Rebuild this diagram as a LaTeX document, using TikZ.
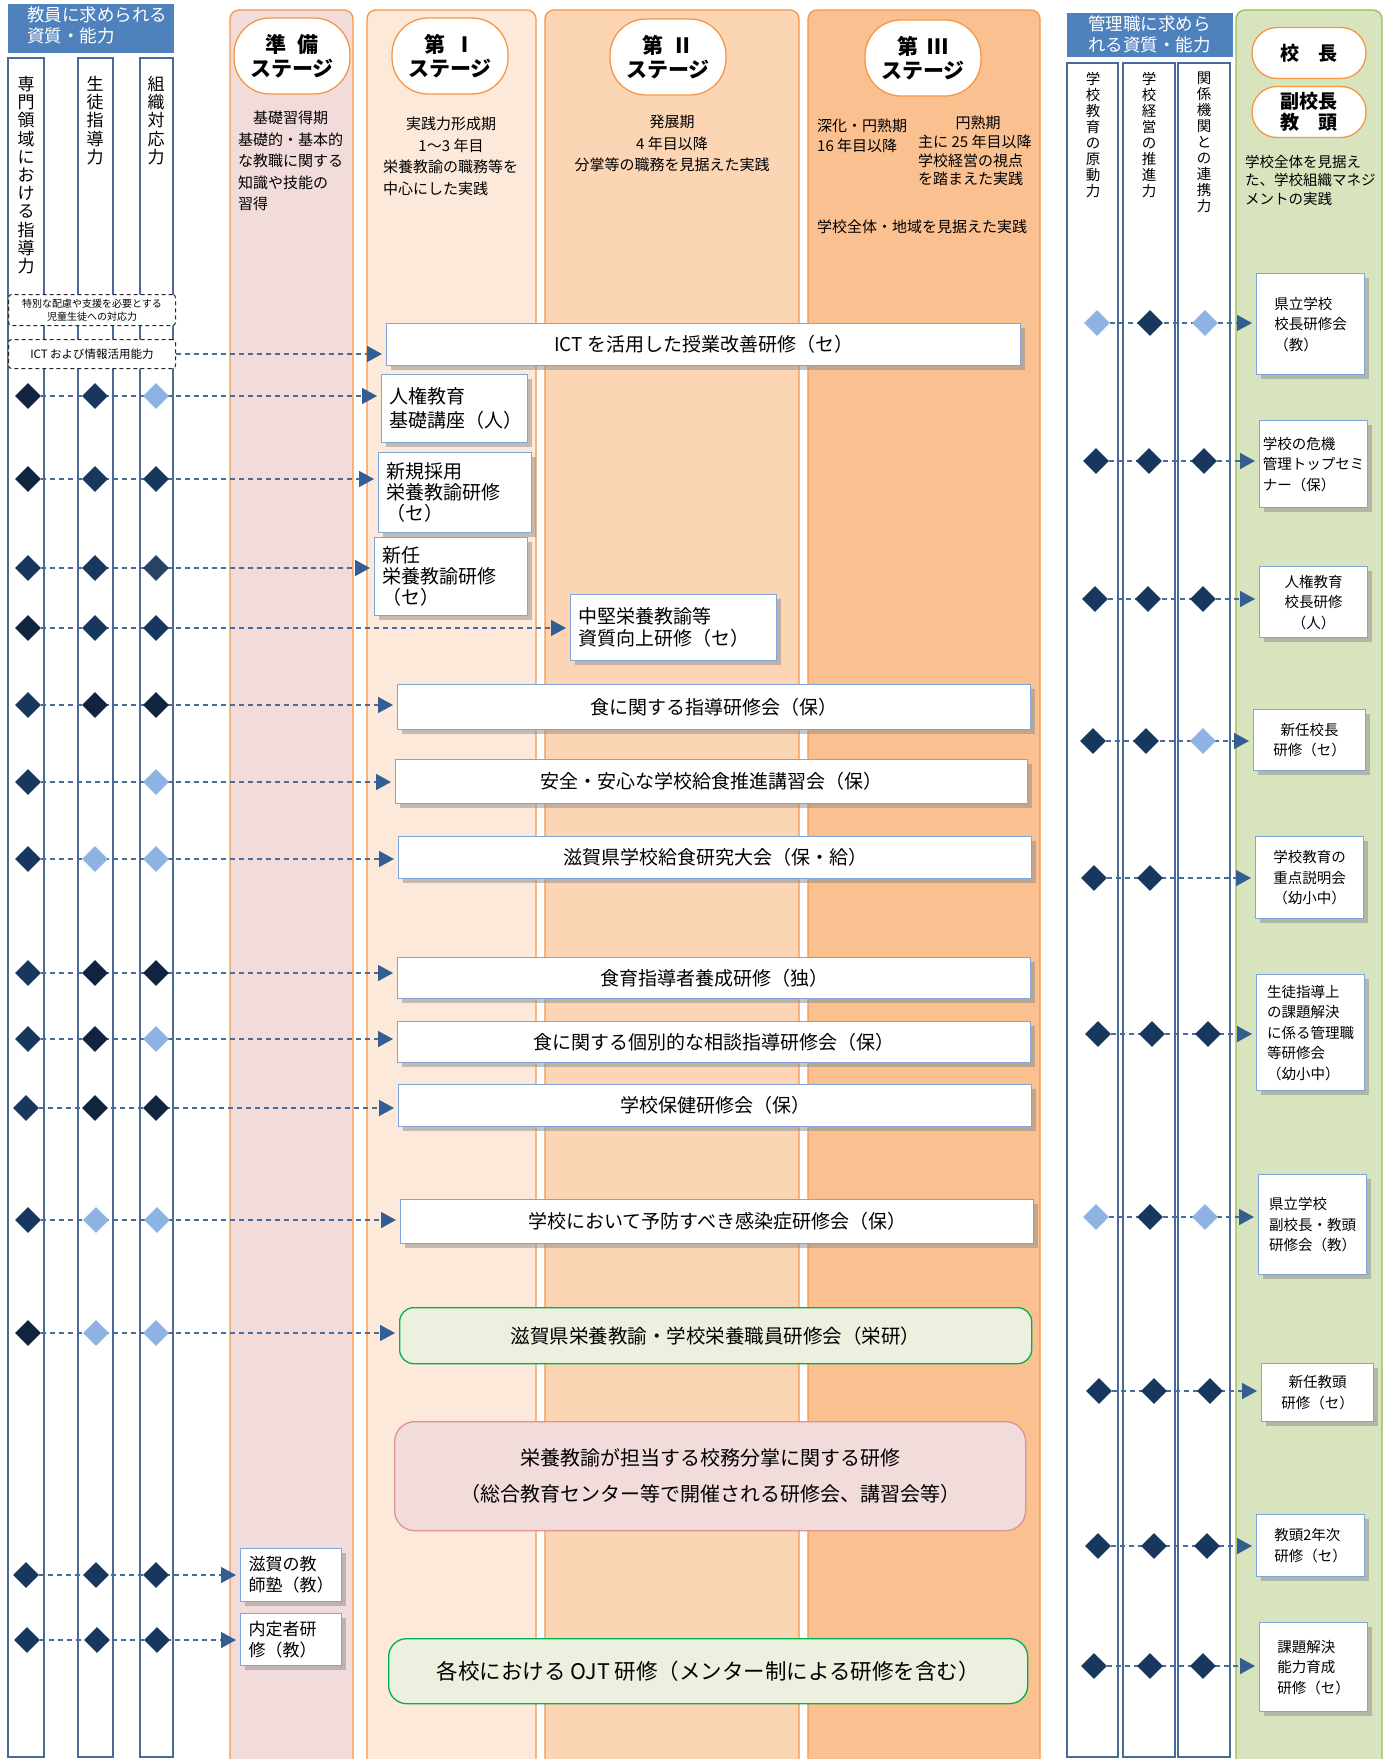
\documentclass[tikz,border=0pt]{standalone}
\usepackage{fontspec}
\setmainfont{Noto Sans CJK JP}
\usetikzlibrary{shapes.geometric,arrows.meta,shadows}
\pgfdeclarelayer{back}
\pgfdeclarelayer{mid}
\pgfsetlayers{back,mid,main}
\definecolor{hdblue}{HTML}{4F81BD}
\definecolor{colnavy}{HTML}{4A6B96}
\definecolor{stgorange}{HTML}{F79646}
\definecolor{fillprep}{HTML}{F2DCDB}
\definecolor{fillone}{HTML}{FDE9D9}
\definecolor{filltwo}{HTML}{FCD5B5}
\definecolor{fillthree}{HTML}{FAC090}
\definecolor{fillgreen}{HTML}{D7E4BD}
\definecolor{linegreen}{HTML}{9BBB59}
\definecolor{boxblue}{HTML}{7EA6DC}
\definecolor{diadark}{HTML}{17375E}
\definecolor{diablack}{HTML}{10243F}
\definecolor{dialight}{HTML}{8DB3E2}
\definecolor{flowblue}{HTML}{4A6C9B}
\definecolor{tipblue}{HTML}{335E93}
\definecolor{eikenfill}{HTML}{EBF1DE}
\definecolor{eikenline}{HTML}{00B050}
\definecolor{pinkline}{HTML}{D99694}
\newcommand{\fsz}[2]{\fontsize{#1pt}{#2pt}\selectfont}
\begin{document}
\begin{tikzpicture}[x=1pt, y=-1pt,
  colbox/.style={draw=colnavy, fill=white, line width=1.3pt},
  stagecol/.style={draw=stgorange, line width=1.3pt, rounded corners=9pt},
  stagename/.style={draw=stgorange, fill=white, line width=1.3pt, rounded corners=36pt, minimum width=116pt, minimum height=76pt, align=center, inner sep=0pt, font=\fsz{21}{24}\bfseries},
  rolename/.style={stagename, rounded corners=25pt, minimum width=114pt, minimum height=51pt, font=\fsz{19}{21}\bfseries},
  hdtext/.style={text=white, align=left, inner sep=0pt, anchor=north west, font=\fsz{17.5}{21}},
  vtext/.style={align=center, anchor=north, inner sep=0pt},
  note/.style={align=center, inner sep=0pt, font=\fsz{15}{21.5}},
  dlbox/.style={draw=black!85, dash pattern=on 4pt off 3pt, fill=white, rounded corners=3pt, line width=1pt, anchor=north west, minimum width=167pt, align=center, inner sep=0pt},
  kbox/.style={draw=boxblue, fill=white, line width=1.2pt, anchor=north west, inner sep=0pt, font=\fsz{19}{22}, drop shadow={shadow xshift=4pt, shadow yshift=-4pt, fill=black!45, opacity=0.5}},
  kboxl/.style={kbox, align=left, inner xsep=8pt},
  rbox/.style={kbox, align=left, minimum width=108pt, font=\fsz{14.5}{20.5}},
  gbox/.style={draw=eikenline, fill=eikenfill, line width=1.3pt, rounded corners=14pt, anchor=north west, inner sep=0pt},
  dia/.style={diamond, aspect=1, minimum width=26pt, minimum height=26pt, inner sep=0pt},
  diaD/.style={dia, fill=diadark},
  diaX/.style={dia, fill=diablack},
  diaL/.style={dia, fill=dialight},
  flow/.style={draw=flowblue, line width=1.5pt, dash pattern=on 5pt off 4pt, shorten >=4pt, -{Triangle[length=15pt, width=16pt, color=tipblue]}}
]
\useasboundingbox (0,0) rectangle (1392,1759);

% columns behind everything
\begin{pgfonlayer}{back}
  \fill[white] (0,0) rectangle (1392,1759);
  \draw[colbox] (8,58) rectangle (44,1757);
  \draw[colbox] (78,58) rectangle (113,1757);
  \draw[colbox] (140,58) rectangle (173,1757);
  \draw[stagecol, fill=fillprep] (230,10) rectangle (353,1780);
  \draw[stagecol, fill=fillone] (367,10) rectangle (536,1780);
  \draw[stagecol, fill=filltwo] (545,10) rectangle (799,1780);
  \draw[stagecol, fill=fillthree] (808,10) rectangle (1040,1780);
  \draw[colbox] (1067,63) rectangle (1118,1757);
  \draw[colbox] (1123,63) rectangle (1175,1757);
  \draw[colbox] (1178,63) rectangle (1230,1757);
  \draw[stagecol, draw=linegreen, fill=fillgreen] (1236,10) rectangle (1382,1780);
\end{pgfonlayer}

% headers
\fill[hdblue] (8,4) rectangle (174,53);
\node[hdtext] (thead) at (27,7) {教員に求められる\\資質・能力};
\fill[hdblue] (1067,13) rectangle (1233,57);
\node[hdtext] (mhead) at (1088,16) {管理職に求めら\\れる資質・能力};

\node[vtext, font=\fsz{17}{18.2}] (vt1) at (26,76) {専\\門\\領\\域\\に\\お\\け\\る\\指\\導\\力};
\node[vtext, font=\fsz{17}{18.2}] (vt2) at (95,76) {生\\徒\\指\\導\\力};
\node[vtext, font=\fsz{17}{18.2}] (vt3) at (156,76) {組\\織\\対\\応\\力};
\node[vtext, font=\fsz{14.5}{16}] (vm1) at (1093,72) {学\\校\\教\\育\\の\\原\\動\\力};
\node[vtext, font=\fsz{14.5}{16}] (vm2) at (1149,72) {学\\校\\経\\営\\の\\推\\進\\力};
\node[vtext, font=\fsz{14.5}{16}] (vm3) at (1204,72) {関\\係\\機\\関\\と\\の\\連\\携\\力};

\node[dlbox, minimum height=31pt, font=\fsz{10}{13}] (special) at (8,294) {特別な配慮や支援を必要とする\\児童生徒への対応力};
\node[dlbox, minimum height=29pt, font=\fsz{11.5}{14}] (ictdl) at (8,339) {ICT および情報活用能力};

% stages
\node[stagename] (prep) at (292,56) {準\hspace{0.5em}備\\ステージ};
\node[stagename] (one) at (450,56) {第\hspace{0.4em}Ⅰ\\ステージ};
\node[stagename] (two) at (668,57) {第\hspace{0.4em}Ⅱ\\ステージ};
\node[stagename] (three) at (923,58) {第\hspace{0.4em}Ⅲ\\ステージ};
\node[rolename] (kocho) at (1309,53) {校\hspace{1em}長};
\node[rolename] (fukukocho) at (1309,112) {副校長\\教\hspace{1em}頭};

\node[note, align=left, anchor=north west] (prepnote) at (238,111) {\hspace*{1em}基礎習得期\\基礎的・基本的\\な教職に関する\\知識や技能の\\習得};
\node[note, anchor=north] (onenote) at (451,117) {実践力形成期\\1〜3 年目};
\node[note, align=left, anchor=north west] (onenote2) at (383,160) {栄養教諭の職務等を\\中心にした実践};
\node[note, anchor=north] (twonote) at (672,115) {発展期\\4 年目以降\\分掌等の職務を見据えた実践};
\node[note, align=left, anchor=north west, font=\fsz{15}{19.5}] (threenoteA) at (817,119) {深化・円熟期\\16 年目以降};
\node[note, anchor=north] (threenoteB) at (978,116) {円熟期};
\node[note, align=left, anchor=north west, font=\fsz{15}{18.5}] (threenoteC) at (918,135) {主に 25 年目以降\\学校経営の視点\\を踏まえた実践};
\node[note, anchor=north west] (threenoteD) at (817,220) {学校全体・地域を見据えた実践};
\node[note, align=left, anchor=north west, font=\fsz{14.5}{18.5}] (greennote) at (1245,155) {学校全体を見据え\\た、学校組織マネジ\\メントの実践};

% trainings
\node[kbox, minimum width=634pt, minimum height=42pt] (ict) at (386,323) {ICT を活用した授業改善研修（セ）};
\node[kboxl, text width=130pt, minimum height=68pt, font=\fsz{19}{24}] (jinken) at (381,374) {人権教育\\基礎講座（人）};
\node[kboxl, text width=137pt, minimum height=80pt, font=\fsz{19}{21}] (shinki) at (378,452) {新規採用\\栄養教諭研修\\（セ）};
\node[kboxl, text width=137pt, minimum height=78pt, font=\fsz{19}{21}] (shinnin) at (374,537) {新任\\栄養教諭研修\\（セ）};
\node[kboxl, text width=190pt, minimum height=66pt, font=\fsz{19}{22}] (chuken) at (570,594) {中堅栄養教諭等\\資質向上研修（セ）};
\node[kbox, minimum width=633pt, minimum height=45pt] (shoku) at (397,684) {食に関する指導研修会（保）};
\node[kbox, minimum width=632pt, minimum height=44pt] (anzen) at (395,759) {安全・安心な学校給食推進講習会（保）};
\node[kbox, minimum width=633pt, minimum height=42pt] (kyushoku) at (398,836) {滋賀県学校給食研究大会（保・給）};
\node[kbox, minimum width=633pt, minimum height=41pt] (shokuiku) at (397,957) {食育指導者養成研修（独）};
\node[kbox, minimum width=633pt, minimum height=41pt] (kobetsu) at (397,1021) {食に関する個別的な相談指導研修会（保）};
\node[kbox, minimum width=633pt, minimum height=42pt] (hoken) at (398,1084) {学校保健研修会（保）};
\node[kbox, minimum width=633pt, minimum height=44pt] (kansen) at (400,1199) {学校において予防すべき感染症研修会（保）};
\node[gbox, minimum width=632pt, minimum height=56pt, font=\fsz{19.5}{22}] (eiken) at (399,1307) {滋賀県栄養教諭・学校栄養職員研修会（栄研）};
\node[gbox, draw=pinkline, fill=fillprep, rounded corners=20pt, minimum width=631pt, minimum height=109pt, align=center, font=\fsz{20}{36}] (kobun) at (394,1421) {栄養教諭が担当する校務分掌に関する研修\\（総合教育センター等で開催される研修会、講習会等）};
\node[kboxl, text width=85pt, minimum height=53pt, font=\fsz{17}{21}] (juku) at (240,1548) {滋賀の教\\師塾（教）};
\node[kboxl, text width=85pt, minimum height=52pt, font=\fsz{17}{21}] (naitei) at (240,1613) {内定者研\\修（教）};
\node[gbox, rounded corners=18pt, minimum width=639pt, minimum height=65pt, font=\fsz{21.5}{24}] (ojt) at (388,1638) {各校における OJT 研修（メンター制による研修を含む）};

\node[rbox, minimum height=101pt] (kencho) at (1256,273) {県立学校\\校長研修会\\（教）};
\node[rbox, minimum height=87pt] (kiki) at (1259,420) {学校の危機\\管理トップセミ\\ナー（保）};
\node[rbox, align=center, minimum height=71pt] (jinkenk) at (1259,566) {人権教育\\校長研修\\（人）};
\node[rbox, align=center, minimum width=112pt, minimum height=61pt] (shinkocho) at (1253,709) {新任校長\\研修（セ）};
\node[rbox, minimum height=82pt] (juten) at (1255,836) {学校教育の\\重点説明会\\（幼小中）};
\node[rbox, minimum height=116pt] (seito) at (1256,974) {生徒指導上\\の課題解決\\に係る管理職\\等研修会\\（幼小中）};
\node[rbox, minimum height=100pt] (fuku) at (1258,1174) {県立学校\\副校長・教頭\\研修会（教）};
\node[rbox, align=center, minimum width=112pt, minimum height=58pt] (shinkyoto) at (1261,1363) {新任教頭\\研修（セ）};
\node[rbox, minimum height=62pt] (kyoto2) at (1256,1514) {教頭2年次\\研修（セ）};
\node[rbox, minimum height=89pt] (kadai) at (1259,1622) {課題解決\\能力育成\\研修（セ）};

% teacher diamonds
\node[diaX] (jinken1) at (28,396) {};
\node[diaD] (jinken2) at (95,396) {};
\node[diaL] (jinken3) at (156,396) {};
\node[diaX] (shinki1) at (28,479) {};
\node[diaD] (shinki2) at (95,479) {};
\node[diaD] (shinki3) at (156,479) {};
\node[diaD] (shinnin1) at (28,568) {};
\node[diaD] (shinnin2) at (95,568) {};
\node[dia, fill=diadark!85!gray] (shinnin3) at (156,568) {};
\node[diaX] (chuken1) at (28,628) {};
\node[diaD] (chuken2) at (95,628) {};
\node[diaD] (chuken3) at (156,628) {};
\node[diaD] (shoku1) at (28,705) {};
\node[diaX] (shoku2) at (95,705) {};
\node[diaX] (shoku3) at (156,705) {};
\node[diaD] (anzen1) at (28,782) {};
\node[diaL] (anzen3) at (156,782) {};
\node[diaD] (kyushoku1) at (28,859) {};
\node[diaL] (kyushoku2) at (95,859) {};
\node[diaL] (kyushoku3) at (156,859) {};
\node[diaD] (shokuiku1) at (28,973) {};
\node[diaX] (shokuiku2) at (95,973) {};
\node[diaX] (shokuiku3) at (156,973) {};
\node[diaD] (kobetsu1) at (28,1039) {};
\node[diaX] (kobetsu2) at (95,1039) {};
\node[diaL] (kobetsu3) at (156,1039) {};
\node[diaD] (hoken1) at (26,1108) {};
\node[diaX] (hoken2) at (95,1108) {};
\node[diaX] (hoken3) at (156,1108) {};
\node[diaD] (kansen1) at (28,1220) {};
\node[diaL] (kansen2) at (96,1220) {};
\node[diaL] (kansen3) at (157,1220) {};
\node[diaX] (eiken1) at (28,1333) {};
\node[diaL] (eiken2) at (96,1333) {};
\node[diaL] (eiken3) at (156,1333) {};
\node[diaD] (juku1) at (26,1575) {};
\node[diaD] (juku2) at (96,1575) {};
\node[diaD] (juku3) at (156,1575) {};
\node[diaD] (naitei1) at (27,1640) {};
\node[diaD] (naitei2) at (97,1640) {};
\node[diaD] (naitei3) at (157,1640) {};

% manager diamonds
\node[diaL] (kencho1) at (1097,323) {};
\node[diaD] (kencho2) at (1150,323) {};
\node[diaL] (kencho3) at (1205,323) {};
\node[diaD] (kiki1) at (1096,461) {};
\node[diaD] (kiki2) at (1149,461) {};
\node[diaD] (kiki3) at (1204,461) {};
\node[diaD] (jinkenk1) at (1095,599) {};
\node[diaD] (jinkenk2) at (1148,599) {};
\node[diaD] (jinkenk3) at (1203,599) {};
\node[diaD] (shinkocho1) at (1093,741) {};
\node[diaD] (shinkocho2) at (1146,741) {};
\node[diaL] (shinkocho3) at (1203,741) {};
\node[diaD] (juten1) at (1094,878) {};
\node[diaD] (juten2) at (1150,878) {};
\node[diaD] (seito1) at (1098,1034) {};
\node[diaD] (seito2) at (1152,1034) {};
\node[diaD] (seito3) at (1208,1034) {};
\node[diaL] (fuku1) at (1096,1217) {};
\node[diaD] (fuku2) at (1150,1217) {};
\node[diaL] (fuku3) at (1205,1217) {};
\node[diaD] (shinkyoto1) at (1099,1391) {};
\node[diaD] (shinkyoto2) at (1154,1391) {};
\node[diaD] (shinkyoto3) at (1210,1391) {};
\node[diaD] (kyoto21) at (1098,1546) {};
\node[diaD] (kyoto22) at (1154,1546) {};
\node[diaD] (kyoto23) at (1207,1546) {};
\node[diaD] (kadai1) at (1094,1666) {};
\node[diaD] (kadai2) at (1150,1666) {};
\node[diaD] (kadai3) at (1203,1666) {};

% connectors under the diamonds
\begin{pgfonlayer}{mid}
  \draw[flow] (ictdl.east) -- (ictdl.east -| ict.west);
  \draw[flow] (jinken1) -- (jinken1 -| jinken.west);
  \draw[flow] (shinki1) -- (shinki1 -| shinki.west);
  \draw[flow] (shinnin1) -- (shinnin1 -| shinnin.west);
  \draw[flow] (chuken1) -- (chuken1 -| chuken.west);
  \draw[flow] (shoku1) -- (shoku1 -| shoku.west);
  \draw[flow] (anzen1) -- (anzen1 -| anzen.west);
  \draw[flow] (kyushoku1) -- (kyushoku1 -| kyushoku.west);
  \draw[flow] (shokuiku1) -- (shokuiku1 -| shokuiku.west);
  \draw[flow] (kobetsu1) -- (kobetsu1 -| kobetsu.west);
  \draw[flow] (hoken1) -- (hoken1 -| hoken.west);
  \draw[flow] (kansen1) -- (kansen1 -| kansen.west);
  \draw[flow] (eiken1) -- (eiken1 -| eiken.west);
  \draw[flow] (juku1) -- (juku1 -| juku.west);
  \draw[flow] (naitei1) -- (naitei1 -| naitei.west);
  \draw[flow] (kencho1) -- (kencho1 -| kencho.west);
  \draw[flow] (kiki1) -- (kiki1 -| kiki.west);
  \draw[flow] (jinkenk1) -- (jinkenk1 -| jinkenk.west);
  \draw[flow] (shinkocho1) -- (shinkocho1 -| shinkocho.west);
  \draw[flow] (juten1) -- (juten1 -| juten.west);
  \draw[flow] (seito1) -- (seito1 -| seito.west);
  \draw[flow] (fuku1) -- (fuku1 -| fuku.west);
  \draw[flow] (shinkyoto1) -- (shinkyoto1 -| shinkyoto.west);
  \draw[flow] (kyoto21) -- (kyoto21 -| kyoto2.west);
  \draw[flow] (kadai1) -- (kadai1 -| kadai.west);
\end{pgfonlayer}
\end{tikzpicture}
\end{document}
